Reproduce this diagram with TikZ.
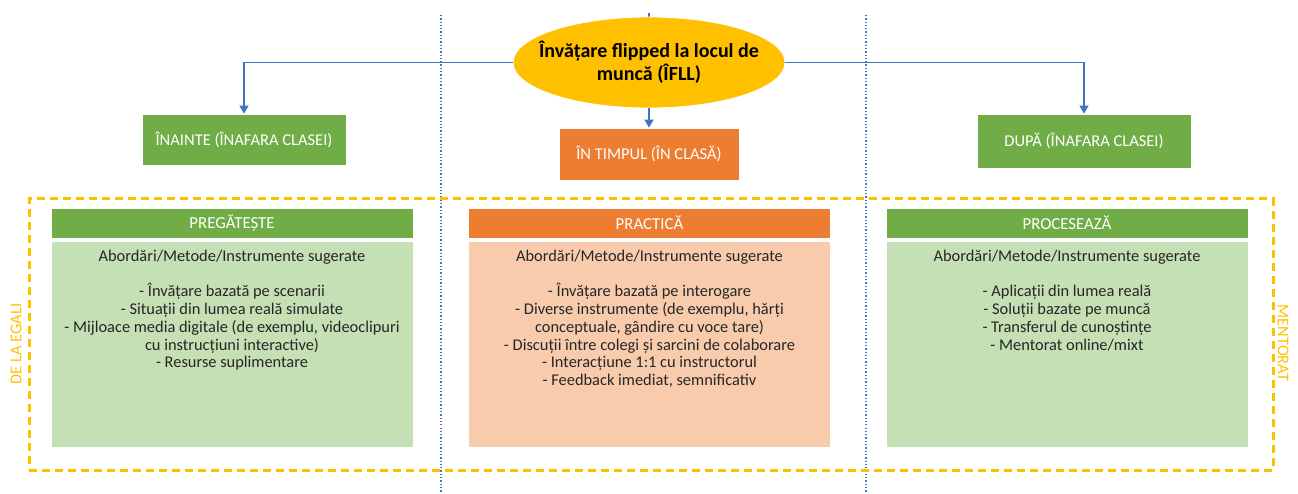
\documentclass[tikz,border=0pt]{standalone}
\usepackage{fontspec}
\setmainfont{Carlito}
\usetikzlibrary{arrows.meta,shapes.geometric}
\definecolor{cblue}{HTML}{4472C4}
\definecolor{cgold}{HTML}{FFC000}
\definecolor{cgreen}{HTML}{70AD47}
\definecolor{corange}{HTML}{ED7D31}
\definecolor{lgreen}{HTML}{C5E0B4}
\definecolor{lorange}{HTML}{F8CBAD}
\definecolor{ctext}{HTML}{262626}
\tikzset{
  conn/.style={draw=cblue, line width=1.4pt, -{Triangle[width=9pt,length=8pt]}},
  divider/.style={draw=cblue, line width=1.3pt, dotted},
  phasebox/.style={rectangle, draw=white, line width=0.8pt, text=white, inner sep=0pt, font=\fontsize{16.5}{18}\selectfont},
  headbox/.style={rectangle, draw=white, line width=0.8pt, text=white, inner sep=0pt, minimum width=362pt, minimum height=30pt, font=\fontsize{16.8}{18}\selectfont},
  bodybox/.style={rectangle, draw=white, line width=0.8pt, inner sep=0pt, minimum width=362pt, minimum height=206pt},
  bodytext/.style={anchor=north, align=center, text=ctext, inner sep=0pt, font=\fontsize{16.4}{17.8}\selectfont},
  sidelabel/.style={text=cgold, font=\fontsize{16.4}{18}\selectfont, inner sep=0pt}
}
\begin{document}
\begin{tikzpicture}[x=1pt,y=-1pt]
\useasboundingbox (0,0) rectangle (1298,494);
% dotted dividers
\coordinate (d1t) at (441,15); \coordinate (d1b) at (441,494);
\coordinate (d2t) at (866,15); \coordinate (d2b) at (866,494);
\draw[divider] (d1t) -- (d1b);
\draw[divider] (d2t) -- (d2b);
% small tick at top
\coordinate (tk1) at (649,13); \coordinate (tk2) at (649,18);
\draw[cblue, line width=1.2pt] (tk1) -- (tk2);
% phase boxes
\node[phasebox, fill=cgreen, minimum width=204pt, minimum height=51pt] (before) at (244,139.5) {ÎNAINTE (ÎNAFARA CLASEI)};
\node[phasebox, fill=corange, minimum width=180pt, minimum height=52pt] (during) at (649,154) {ÎN TIMPUL (ÎN CLASĂ)};
\node[phasebox, fill=cgreen, minimum width=214pt, minimum height=54pt] (after) at (1084,141) {DUPĂ (ÎNAFARA CLASEI)};
% ellipse
\node[ellipse, fill=cgold, draw=white, line width=0.8pt, minimum width=272pt, minimum height=91pt, inner sep=0pt] (ell) at (649,62.5) {};
\node[align=center, inner sep=0pt, font=\bfseries\fontsize{20}{23}\selectfont] (title) at (ell.center) {Învățare flipped la locul de\\muncă (ÎFLL)};
% connectors
\draw[conn] (ell.west) -| (before.north);
\draw[conn] (ell.east) -| (after.north);
\draw[conn] (ell.south) -- (during.north);
% dashed frame
\node[draw=cgold, line width=3pt, dash pattern=on 8pt off 5pt, minimum width=1244pt, minimum height=271pt, inner sep=0pt] (frame) at (651,334.5) {};
\node[sidelabel, rotate=90] (peer) at (16,344) {DE LA EGALI};
\node[sidelabel, rotate=-90] (mentor) at (1283,343) {MENTORAT};
% panels
\node[headbox, fill=cgreen] (h1) at (232,223) {PREGĂTEȘTE};
\node[bodybox, fill=lgreen] (b1) at (232,344) {};
\node[bodytext] (t1) at ([yshift=-9pt]b1.north) {Abordări/Metode/Instrumente sugerate\\[17.8pt]- Învățare bazată pe scenarii\\- Situații din lumea reală simulate\\- Mijloace media digitale (de exemplu, videoclipuri\\cu instrucțiuni interactive)\\- Resurse suplimentare};
\node[headbox, fill=corange] (h2) at (649.5,223) {PRACTICĂ};
\node[bodybox, fill=lorange] (b2) at (649.5,344) {};
\node[bodytext] (t2) at ([yshift=-9pt]b2.north) {Abordări/Metode/Instrumente sugerate\\[17.8pt]- Învățare bazată pe interogare\\- Diverse instrumente (de exemplu, hărți\\conceptuale, gândire cu voce tare)\\- Discuții între colegi și sarcini de colaborare\\- Interacțiune 1:1 cu instructorul\\- Feedback imediat, semnificativ};
\node[headbox, fill=cgreen] (h3) at (1067,223) {PROCESEAZĂ};
\node[bodybox, fill=lgreen] (b3) at (1067,344) {};
\node[bodytext] (t3) at ([yshift=-9pt]b3.north) {Abordări/Metode/Instrumente sugerate\\[17.8pt]- Aplicații din lumea reală\\- Soluții bazate pe muncă\\- Transferul de cunoștințe\\- Mentorat online/mixt};
\end{tikzpicture}
\end{document}
